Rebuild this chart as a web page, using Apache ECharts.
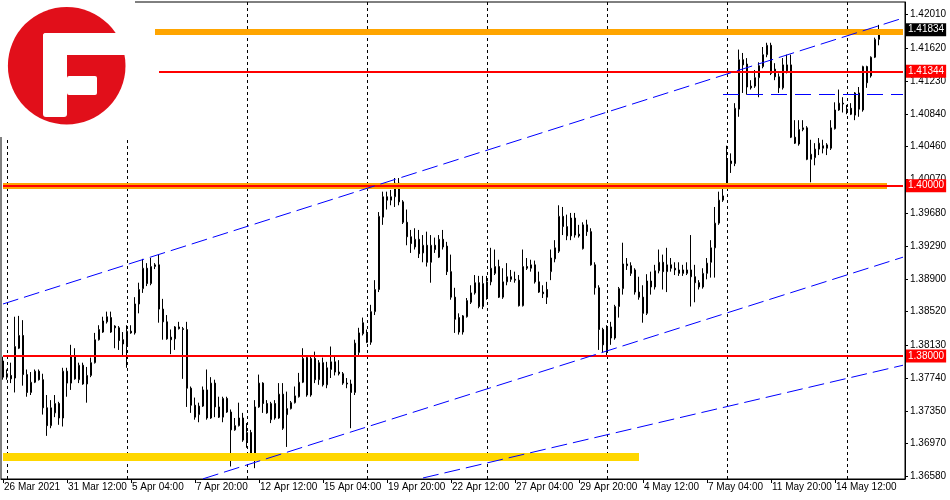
<!DOCTYPE html>
<html><head><meta charset="utf-8">
<script src="https://cdn.jsdelivr.net/npm/echarts@6/dist/echarts.min.js"></script>
<style>html,body{margin:0;padding:0;background:#fff}#c{width:950px;height:500px}</style>
</head><body><div id="c"></div>
<script>
// GBPUSD H4, 26 Mar 2021 20:00 -> 18 May 2021 08:00
const openP = [
1.3794,1.3775,1.3777,1.3774,1.3809,1.3824,1.3778,1.3757,1.3769,1.3782,
1.3772,1.3739,1.3718,1.3733,1.3744,1.3727,1.3782,1.3768,1.3800,1.3772,
1.3789,1.3767,1.3777,1.3792,1.3819,1.3828,1.3840,1.3845,1.3835,1.3833,
1.3819,1.3811,1.3829,1.3827,1.3861,1.3879,1.3903,1.3885,1.3905,1.3907,
1.3855,1.3840,1.3822,1.3820,1.3834,1.3832,1.3831,1.3762,1.3742,1.3731,
1.3741,1.3760,1.3727,1.3768,1.3740,1.3728,1.3750,1.3734,1.3713,1.3718,
1.3727,1.3701,1.3710,1.3681,1.3740,1.3768,1.3744,1.3725,1.3744,1.3727,
1.3755,1.3738,1.3738,1.3745,1.3752,1.3769,1.3798,1.3754,1.3797,1.3772,
1.3792,1.3766,1.3784,1.3793,1.3781,1.3779,1.3768,1.3767,1.3757,1.3804,
1.3826,1.3826,1.3816,1.3852,1.3878,1.3963,1.3987,1.3983,1.3987,1.4003,
1.3981,1.3957,1.3940,1.3928,1.3937,1.3921,1.3930,1.3910,1.3930,1.3916,
1.3937,1.3929,1.3899,1.3869,1.3845,1.3828,1.3846,1.3863,1.3874,1.3886,
1.3858,1.3869,1.3887,1.3897,1.3905,1.3869,1.3887,1.3893,1.3890,1.3889,
1.3859,1.3905,1.3903,1.3907,1.3887,1.3875,1.3878,1.3899,1.3914,1.3923,
1.3964,1.3941,1.3962,1.3942,1.3943,1.3926,1.3954,1.3946,1.3907,1.3880,
1.3831,1.3804,1.3834,1.3821,1.3858,1.3879,1.3908,1.3906,1.3901,1.3875,
1.3869,1.3850,1.3888,1.3881,1.3900,1.3910,1.3899,1.3907,1.3903,1.3897,
1.3901,1.3897,1.3901,1.3893,1.3886,1.3881,1.3897,1.3910,1.3927,1.3956,
1.3983,1.4001,1.4029,1.4026,1.4090,1.4148,1.4143,1.4117,1.4117,1.4127,
1.4140,1.4154,1.4165,1.4137,1.4128,1.4115,1.4142,1.4142,1.4057,1.4049,
1.4066,1.4068,1.4031,1.4033,1.4043,1.4044,1.4044,1.4044,1.4067,1.4089,
1.4096,1.4090,1.4091,1.4083,1.4109,1.4089,1.4140,1.4129,1.4151,1.4172];
const closeP = [
1.3775,1.3779,1.3773,1.3811,1.3824,1.3778,1.3757,1.3769,1.3782,1.3772,
1.3739,1.3718,1.3739,1.3744,1.3727,1.3782,1.3768,1.3800,1.3773,1.3789,
1.3767,1.3777,1.3792,1.3819,1.3831,1.3841,1.3846,1.3828,1.3833,1.3818,
1.3814,1.3829,1.3827,1.3861,1.3878,1.3903,1.3885,1.3905,1.3907,1.3855,
1.3840,1.3820,1.3819,1.3834,1.3832,1.3831,1.3762,1.3742,1.3728,1.3741,
1.3760,1.3727,1.3768,1.3740,1.3728,1.3750,1.3734,1.3713,1.3718,1.3727,
1.3701,1.3710,1.3681,1.3740,1.3768,1.3744,1.3733,1.3744,1.3727,1.3755,
1.3715,1.3731,1.3745,1.3753,1.3769,1.3797,1.3754,1.3797,1.3772,1.3792,
1.3766,1.3786,1.3793,1.3781,1.3779,1.3768,1.3767,1.3757,1.3815,1.3827,
1.3839,1.3816,1.3852,1.3878,1.3964,1.3987,1.3983,1.3987,1.4003,1.3981,
1.3957,1.3940,1.3932,1.3937,1.3920,1.3930,1.3910,1.3930,1.3925,1.3937,
1.3928,1.3899,1.3869,1.3843,1.3828,1.3847,1.3865,1.3874,1.3886,1.3858,
1.3885,1.3887,1.3903,1.3905,1.3869,1.3887,1.3893,1.3890,1.3889,1.3859,
1.3905,1.3903,1.3907,1.3887,1.3875,1.3873,1.3869,1.3915,1.3927,1.3964,
1.3952,1.3952,1.3941,1.3962,1.3941,1.3954,1.3946,1.3907,1.3880,1.3831,
1.3813,1.3834,1.3821,1.3858,1.3879,1.3908,1.3906,1.3897,1.3875,1.3869,
1.3850,1.3888,1.3881,1.3900,1.3910,1.3899,1.3907,1.3903,1.3901,1.3901,
1.3897,1.3901,1.3893,1.3886,1.3881,1.3897,1.3909,1.3927,1.3956,1.3983,
1.3988,1.4029,1.4026,1.4091,1.4148,1.4142,1.4116,1.4115,1.4127,1.4141,
1.4154,1.4165,1.4132,1.4128,1.4115,1.4142,1.4135,1.4057,1.4050,1.4066,
1.4068,1.4031,1.4037,1.4043,1.4050,1.4047,1.4048,1.4068,1.4089,1.4097,
1.4097,1.4088,1.4084,1.4109,1.4090,1.4140,1.4121,1.4151,1.4172,1.41834];
const highP = [
1.3799,1.3784,1.3792,1.3846,1.3847,1.3842,1.3784,1.3781,1.3784,1.3784,
1.3779,1.3754,1.3748,1.3754,1.3746,1.3786,1.3786,1.3813,1.3809,1.3792,
1.3792,1.3787,1.3798,1.3827,1.3836,1.3846,1.3852,1.3852,1.3836,1.3835,
1.3828,1.3836,1.3836,1.3869,1.3886,1.3914,1.3909,1.3915,1.3909,1.3919,
1.3867,1.3848,1.3831,1.3835,1.3840,1.3834,1.3840,1.3764,1.3751,1.3745,
1.3764,1.3784,1.3775,1.3772,1.3752,1.3752,1.3752,1.3737,1.3727,1.3745,
1.3733,1.3721,1.3713,1.3748,1.3778,1.3769,1.3748,1.3746,1.3748,1.3768,
1.3768,1.3758,1.3747,1.3764,1.3780,1.3809,1.3799,1.3799,1.3805,1.3795,
1.3798,1.3793,1.3811,1.3801,1.3795,1.3781,1.3774,1.3772,1.3819,1.3833,
1.3845,1.3831,1.3860,1.3889,1.3969,1.3993,1.3993,1.3995,1.4009,1.4009,
1.3983,1.3972,1.3948,1.3950,1.3948,1.3942,1.3946,1.3942,1.3939,1.3942,
1.3948,1.3934,1.3919,1.3880,1.3850,1.3848,1.3868,1.3883,1.3895,1.3894,
1.3894,1.3894,1.3927,1.3925,1.3913,1.3903,1.3909,1.3901,1.3899,1.3895,
1.3925,1.3915,1.3913,1.3912,1.3899,1.3883,1.3887,1.3925,1.3936,1.3977,
1.3975,1.3966,1.3968,1.3968,1.3954,1.3957,1.3960,1.3950,1.3910,1.3883,
1.3833,1.3836,1.3840,1.3860,1.3881,1.3933,1.3915,1.3910,1.3903,1.3893,
1.3883,1.3896,1.3899,1.3907,1.3925,1.3919,1.3927,1.3915,1.3910,1.3910,
1.3907,1.3910,1.3942,1.3907,1.3889,1.3903,1.3915,1.3936,1.3975,1.3993,
1.4003,1.4047,1.4038,1.4097,1.4160,1.4156,1.4150,1.4124,1.4136,1.4145,
1.4163,1.4168,1.4168,1.4144,1.4132,1.4150,1.4154,1.4154,1.4077,1.4077,
1.4077,1.4070,1.4054,1.4050,1.4056,1.4054,1.4050,1.4077,1.4098,1.4113,
1.4104,1.4095,1.4097,1.4110,1.4116,1.4141,1.4141,1.4152,1.4174,1.4189];
const lowP = [
1.3772,1.3772,1.3768,1.3757,1.3808,1.3765,1.3752,1.3754,1.3768,1.3771,
1.3731,1.3706,1.3715,1.3728,1.3719,1.3717,1.3752,1.3760,1.3772,1.3768,
1.3766,1.3745,1.3775,1.3791,1.3818,1.3827,1.3838,1.3827,1.3809,1.3807,
1.3801,1.3786,1.3826,1.3825,1.3850,1.3874,1.3882,1.3883,1.3902,1.3839,
1.3819,1.3819,1.3802,1.3807,1.3831,1.3773,1.3740,1.3733,1.3725,1.3722,
1.3740,1.3725,1.3726,1.3728,1.3727,1.3722,1.3733,1.3670,1.3712,1.3717,
1.3699,1.3692,1.3679,1.3668,1.3739,1.3733,1.3732,1.3721,1.3725,1.3726,
1.3713,1.3693,1.3737,1.3744,1.3751,1.3768,1.3752,1.3752,1.3768,1.3766,
1.3764,1.3762,1.3774,1.3777,1.3777,1.3766,1.3762,1.3715,1.3754,1.3801,
1.3824,1.3815,1.3813,1.3848,1.3875,1.3954,1.3972,1.3977,1.3975,1.3977,
1.3955,1.3930,1.3921,1.3925,1.3915,1.3910,1.3905,1.3886,1.3921,1.3915,
1.3925,1.3895,1.3866,1.3827,1.3825,1.3825,1.3845,1.3861,1.3872,1.3856,
1.3855,1.3866,1.3883,1.3895,1.3868,1.3867,1.3883,1.3887,1.3886,1.3858,
1.3858,1.3901,1.3899,1.3885,1.3874,1.3868,1.3861,1.3889,1.3910,1.3921,
1.3942,1.3936,1.3936,1.3939,1.3939,1.3925,1.3941,1.3906,1.3872,1.3807,
1.3804,1.3801,1.3813,1.3819,1.3845,1.3872,1.3901,1.3894,1.3872,1.3866,
1.3839,1.3848,1.3872,1.3878,1.3897,1.3878,1.3875,1.3899,1.3895,1.3894,
1.3894,1.3895,1.3858,1.3863,1.3878,1.3879,1.3890,1.3892,1.3892,1.3954,
1.3981,1.3999,1.4015,1.4023,1.4081,1.4109,1.4107,1.4113,1.4115,1.4104,
1.4138,1.4151,1.4130,1.4124,1.4109,1.4113,1.4132,1.4056,1.4049,1.4047,
1.4064,1.4030,1.4004,1.4024,1.4036,1.4038,1.4036,1.4042,1.4066,1.4088,
1.4086,1.4084,1.4083,1.4077,1.4081,1.4087,1.4115,1.4127,1.4150,1.4165];

const yTicks = [1.36580,1.36970,1.37350,1.37740,1.38130,1.38520,1.38900,1.39290,1.39680,1.40070,1.40460,1.40840,1.41230,1.41620,1.42010];
const xTickLabels = ['26 Mar 2021','31 Mar 12:00','5 Apr 04:00','7 Apr 20:00','12 Apr 12:00','15 Apr 04:00','19 Apr 20:00','22 Apr 12:00','27 Apr 04:00','29 Apr 20:00','4 May 12:00','7 May 04:00','11 May 20:00','14 May 12:00'];
const weekStarts = [1,31,61,91,121,151,181,211];   // Monday 00:00 bars
const bidPrice = 1.41834;
const redLevels = [1.41344, 1.40000, 1.38000];
const orangeLevels = [1.4181, 1.4000];
const yellowLevel = 1.3681;
const blueLevel = 1.4108;
const trendUpper = [[0, 1.3861], [225, 1.4197]];
const trendMiddle = [[50, 1.36555], [225, 1.3916]];
const trendLower = [[105, 1.36565], [225, 1.3789]];

// categories: 4-hour bars, weekdays only, plus a few future slots (chart shift)
const MON = ['Jan','Feb','Mar','Apr','May','Jun'];
const categories = [];
let t = Date.UTC(2021, 2, 26, 20);
while (categories.length < 226) {
  const d = new Date(t);
  const wd = d.getUTCDay();
  if (wd !== 0 && wd !== 6) categories.push(d.getUTCDate() + ' ' + MON[d.getUTCMonth()] + ' ' + String(d.getUTCHours()).padStart(2, '0') + ':00');
  t += 4 * 3600 * 1000;
}
const candles = openP.map((o, i) => [o, closeP[i], lowP[i], highP[i]]);

const FONT = '"Liberation Sans", Arial, sans-serif';
const showTick = (i) => i % 16 === 0 && i / 16 < xTickLabels.length;
const seg = (a, b, style, label) => [{coord: a, lineStyle: style, label: label || {show: false}}, {coord: b}];
const tag = (text, bg) => ({show: true, position: 'end', distance: 3, formatter: text, color: '#fff',
  backgroundColor: bg, padding: [1, 2, 1, 2], fontSize: 10, lineHeight: 11, fontFamily: FONT});
const last = categories.length - 1;

const chart = echarts.init(document.getElementById('c'));
chart.setOption({
  animation: false,
  backgroundColor: '#fff',
  grid: {left: 1, right: 45, top: 2, bottom: 21, show: true, borderColor: '#000', borderWidth: 1, backgroundColor: '#fff'},
  xAxis: {
    type: 'category', data: categories, boundaryGap: true,
    axisLine: {show: true, lineStyle: {color: '#000', width: 1}},
    axisTick: {show: true, interval: (i) => showTick(i), alignWithLabel: true, length: 4, lineStyle: {color: '#000'}},
    axisLabel: {interval: (i) => showTick(i), formatter: (v, i) => xTickLabels[Math.round(i / 16)] || '',
      align: 'left', padding: [0, 0, 0, 1], margin: 3, color: '#000', fontSize: 10, fontFamily: FONT},
    splitLine: {show: false}
  },
  yAxis: {
    type: 'value', position: 'right', min: 1.36553, max: 1.42159, scale: true,
    axisLine: {show: true, lineStyle: {color: '#000', width: 1}},
    axisTick: {show: true, length: 3, customValues: yTicks, lineStyle: {color: '#000'}},
    axisLabel: {customValues: yTicks, formatter: (v) => v.toFixed(5), color: '#000', fontSize: 10, margin: 5, fontFamily: FONT},
    splitLine: {show: false}
  },
  series: [
    {type: 'line', name: 'weeks', data: [], z: 1, silent: true,
      markLine: {symbol: ['none', 'none'], silent: true, label: {show: false},
        lineStyle: {color: '#000', width: 1, type: [3, 3]},
        data: weekStarts.map((i) => ({xAxis: i}))}},
    {type: 'line', name: 'bands', data: [], z: 2, silent: true,
      markLine: {symbol: ['none', 'none'], silent: true, label: {show: false},
        data: [
          seg([0, yellowLevel], [159, yellowLevel], {color: '#FFD700', width: 8, type: 'solid'}),
          seg([38, orangeLevels[0]], [last, orangeLevels[0]], {color: '#FFA500', width: 6, type: 'solid'}),
          seg([0, orangeLevels[1]], [221, orangeLevels[1]], {color: '#FFA500', width: 6, type: 'solid'})
        ]}},
    {type: 'candlestick', name: 'GBPUSD,H4', z: 3, barWidth: 2, data: candles, silent: true,
      itemStyle: {color: '#fff', color0: '#000', borderColor: '#000', borderColor0: '#000', borderWidth: 1}},
    {type: 'line', name: 'lines', data: [], z: 4, silent: true,
      markLine: {symbol: ['none', 'none'], silent: true, label: {show: false},
        data: [
          seg([0, bidPrice], [last, bidPrice], {color: 'rgba(0,0,0,0)', width: 1, type: 'solid'}, tag('1.41834', '#000')),
          seg([39, redLevels[0]], [last, redLevels[0]], {color: '#FF0000', width: 2, type: 'solid'}, tag('1.41344', '#FF0000')),
          seg([0, redLevels[1]], [last, redLevels[1]], {color: '#FF0000', width: 2, type: 'solid'}, tag('1.40000', '#FF0000')),
          seg([0, redLevels[2]], [last, redLevels[2]], {color: '#FF0000', width: 2, type: 'solid'}, tag('1.38000', '#FF0000')),
          seg([180, blueLevel], [last, blueLevel], {color: '#0000FF', width: 1, type: [16, 8]}),
          seg(trendUpper[0], trendUpper[1], {color: '#0000FF', width: 1, type: [16, 6]}),
          seg(trendMiddle[0], trendMiddle[1], {color: '#0000FF', width: 1, type: [16, 6]}),
          seg(trendLower[0], trendLower[1], {color: '#0000FF', width: 1, type: [16, 6]})
        ]}}
  ],
  graphic: [
    {type: 'rect', shape: {x: 0, y: 0, width: 135, height: 137}, style: {fill: '#fff'}, z: 100, silent: true},
    {type: 'circle', shape: {cx: 66.7, cy: 65.7, r: 58.8}, style: {fill: '#E10F1A'}, z: 101, silent: true},
    {type: 'rect', shape: {x: 43, y: 33, width: 92, height: 22, r: 3}, style: {fill: '#fff'}, z: 102, silent: true},
    {type: 'rect', shape: {x: 43, y: 33, width: 24, height: 84, r: 3}, style: {fill: '#fff'}, z: 102, silent: true},
    {type: 'rect', shape: {x: 67, y: 76, width: 30, height: 19, r: 2}, style: {fill: '#fff'}, z: 102, silent: true}
  ]
});
</script>
</body></html>
